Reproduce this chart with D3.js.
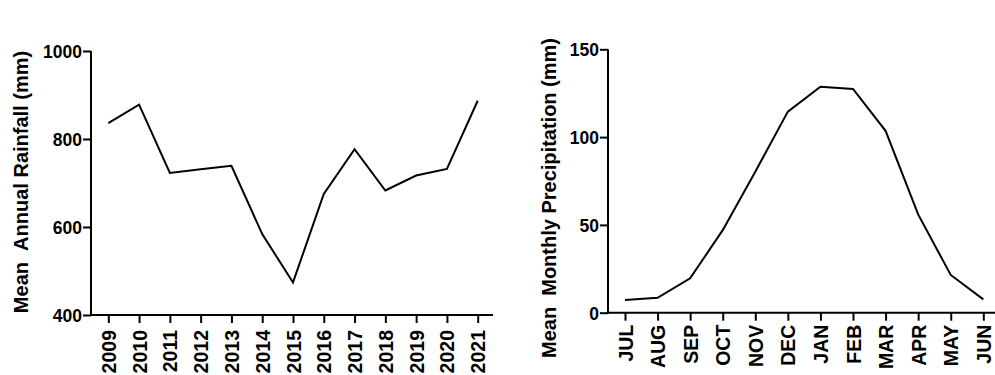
<!DOCTYPE html>
<html>
<head>
<meta charset="utf-8">
<script src="https://cdn.jsdelivr.net/npm/d3@7"></script>
<style>
  body { margin: 0; background: #fff; }
  svg { display: block; }
  text { font-family: Arial, "Liberation Sans", sans-serif; font-weight: bold; fill: #000; }
</style>
</head>
<body>
<div id="chart"></div>
<script>
// annual rainfall
var years = ["2009","2010","2011","2012","2013","2014","2015","2016","2017","2018","2019","2020","2021"];
var rainfall = [836, 878, 723, 731, 739, 584, 474, 675, 777, 683, 717, 732, 887];
var rainTicks = [400, 600, 800, 1000];

// monthly precipitation
var months = ["JUL","AUG","SEP","OCT","NOV","DEC","JAN","FEB","MAR","APR","MAY","JUN"];
var precip = [7.2, 8.5, 19.6, 47, 80.3, 114.5, 128.7, 127.4, 103.6, 56, 21.5, 7.6];
var precipTicks = [0, 50, 100, 150];

var svg = d3.select("#chart").append("svg")
  .attr("width", 995)
  .attr("height", 375);

function drawPanel(opt) {
  var g = svg.append("g")
    .attr("transform", "translate(" + opt.left + "," + opt.top + ")");

  var x = d3.scalePoint().domain(opt.cats).range(opt.xRange);
  var y = d3.scaleLinear().domain(opt.yDomain).range([opt.h, 0]);

  // y axis
  var ya = g.append("g")
    .call(d3.axisLeft(y).tickValues(opt.yTicks).tickFormat(d3.format("d"))
      .tickSize(8).tickSizeOuter(0));
  ya.select(".domain").remove();
  ya.selectAll("line").attr("stroke", "#000").attr("stroke-width", 2);
  ya.selectAll("text").attr("x", -9).attr("dy", "0.36em").style("font-size", "17.5px");
  g.append("line")
    .attr("x1", 0).attr("x2", 0)
    .attr("y1", 0).attr("y2", opt.h + 1)
    .attr("stroke", "#000").attr("stroke-width", 2);

  // x axis
  var xa = g.append("g")
    .attr("transform", "translate(0," + opt.h + ")")
    .call(d3.axisBottom(x).tickSize(8).tickSizeOuter(0));
  xa.select(".domain").remove();
  xa.selectAll("line").attr("stroke", "#000").attr("stroke-width", 2);
  xa.selectAll("text")
    .attr("transform", "rotate(-90)")
    .attr("x", -opt.labelGap).attr("y", 0).attr("dy", "0.36em")
    .attr("text-anchor", "end")
    .style("font-size", "19.5px");
  g.append("line")
    .attr("x1", -1).attr("x2", opt.xEnd)
    .attr("y1", opt.h).attr("y2", opt.h)
    .attr("stroke", "#000").attr("stroke-width", 2);

  // line
  var line = d3.line()
    .x(function(d, i) { return x(opt.cats[i]); })
    .y(function(d) { return y(d); });
  g.append("path")
    .datum(opt.values)
    .attr("d", line)
    .attr("fill", "none")
    .attr("stroke", "#000")
    .attr("stroke-width", 2);

  // y title
  svg.append("text")
    .attr("transform", "translate(" + opt.titleX + "," + opt.titleY + ") rotate(-90)")
    .attr("text-anchor", "middle")
    .attr("dy", "0.36em")
    .style("font-size", "20px")
    .style("white-space", "pre")
    .text(opt.title);
}

drawPanel({
  left: 91, top: 51, h: 264,
  cats: years, values: rainfall,
  xRange: [17.3, 386.7], xEnd: 402, labelGap: 15,
  yDomain: [400, 1000], yTicks: rainTicks,
  title: "Mean\u00a0\u00a0Annual Rainfall (mm)",
  titleX: 21, titleY: 182
});

drawPanel({
  left: 608, top: 49.3, h: 263.4,
  cats: months, values: precip,
  xRange: [17, 375.3], xEnd: 387, labelGap: 12,
  yDomain: [0, 150], yTicks: precipTicks,
  title: "Mean\u00a0\u00a0Monthly Precipitation (mm)",
  titleX: 549, titleY: 198
});
</script>
</body>
</html>
